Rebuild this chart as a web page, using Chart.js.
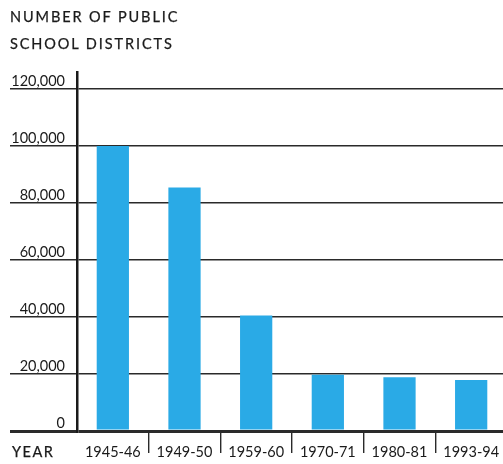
<!DOCTYPE html>
<html>
<head>
<meta charset="utf-8">
<script src="https://cdn.jsdelivr.net/npm/chart.js@4"></script>
<style>
    html, body { margin: 0; padding: 0; background: #fff; overflow: hidden; }
    body { width: 503px; height: 464px; position: relative; }
    #wrap { position: absolute; left: 0; top: 0; width: 510px; height: 464px; }
    .label { position: absolute; font-family: Lato, sans-serif; color: #1a1a1a; letter-spacing: 1.5px; font-size: 14.5px; -webkit-text-stroke: 0.25px #1a1a1a; }
    #heading { left: 10px; top: 4px; line-height: 26.5px; letter-spacing: 1.9px; }
    #year { left: 12px; top: 443px; }
</style>
</head>
<body>
<div id="wrap"><canvas id="districts"></canvas></div>
<div class="label" id="heading">NUMBER OF PUBLIC<br>SCHOOL DISTRICTS</div>
<div class="label" id="year">YEAR</div>
<script>
const years = ['1945-46', '1949-50', '1959-60', '1970-71', '1980-81', '1993-94'];
const districts = [100000, 85500, 40500, 19700, 18900, 17900];
const yTicks = [0, 20000, 40000, 60000, 80000, 100000, 120000];

function renderDistrictsChart() {
    new Chart(document.getElementById('districts'), {
        type: 'bar',
        data: {
            labels: years,
            datasets: [{
                data: districts,
                backgroundColor: '#2AAAE6',
                borderWidth: 0,
                barPercentage: 0.45,
                categoryPercentage: 1
            }]
        },
        options: {
            responsive: false,
            animation: false,
            devicePixelRatio: 1,
            layout: { padding: { left: 8, top: 72, right: 3, bottom: 0 } },
            plugins: { legend: { display: false }, tooltip: { enabled: false } },
            scales: {
                x: {
                    offset: true,
                    border: { display: false },
                    grid: {
                        offset: true,
                        drawOnChartArea: false,
                        drawTicks: true,
                        tickLength: 22,
                        lineWidth: 1.4,
                        color: ctx => ctx.index === 0 ? 'rgba(0,0,0,0)' : '#2a2a2a'
                    },
                    ticks: {
                        color: '#1a1a1a',
                        padding: -9,
                        maxRotation: 0,
                        font: { family: 'Lato', size: 14.5 }
                    },
                    afterFit: scale => { scale.height = 33; }
                },
                y: {
                    min: 0,
                    max: 126000,
                    afterBuildTicks: scale => { scale.ticks = yTicks.map(v => ({ value: v })); },
                    border: { display: true, width: 2.5, color: '#1a1a1a' },
                    grid: {
                        drawTicks: true,
                        tickLength: 67,
                        color: '#2a2a2a',
                        lineWidth: ctx => ctx.tick && ctx.tick.value === 0 ? 3 : 1.4
                    },
                    ticks: {
                        color: '#1a1a1a',
                        padding: -55,
                        labelOffset: -8,
                        font: { family: 'Lato', size: 14.5 },
                        callback: value => value.toLocaleString('en-US')
                    },
                    afterFit: scale => { scale.width = 69; }
                }
            }
        }
    });
}

window.onload = renderDistrictsChart;
</script>
<script>
document.getElementById('districts').width = 510;
document.getElementById('districts').height = 464;
</script>
</body>
</html>
